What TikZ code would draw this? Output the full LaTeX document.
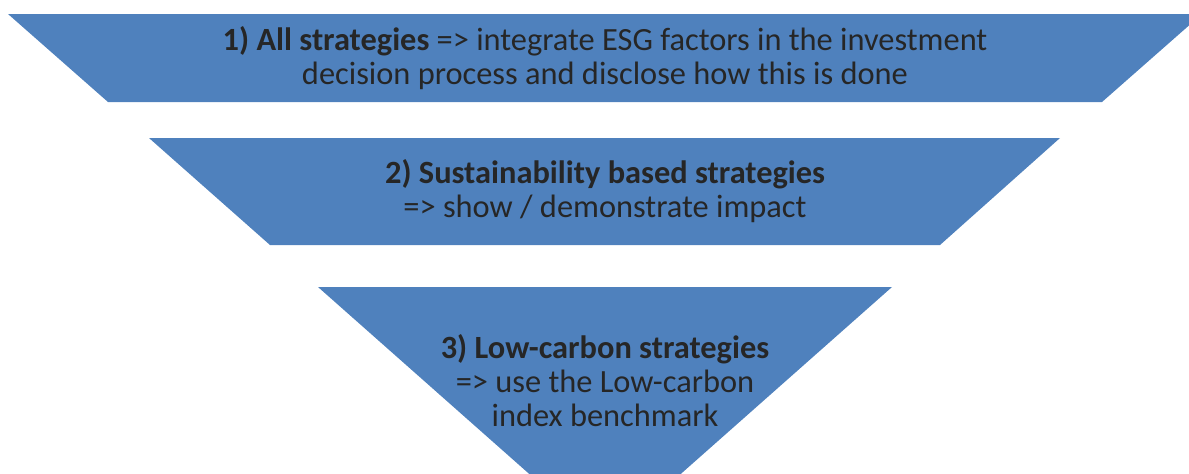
\documentclass[tikz,border=0pt]{standalone}
\usepackage{fontspec}
\setmainfont{Carlito}
\usepackage{tikz}
\usetikzlibrary{positioning}
\usepackage{xcolor}
\definecolor{funnelblue}{HTML}{4F81BD}
\definecolor{funneltext}{HTML}{262626}

\begin{document}
\begin{tikzpicture}[x=0.5pt, y=0.5pt,
    level/.style={fill=funnelblue, draw=none},
    levtext/.style={align=center, text=funneltext, font=\fontsize{16.2}{17}\selectfont, inner sep=0pt}]
        \useasboundingbox (0,0) rectangle (1189,473);
        \clip (0,0) rectangle (1189,473);
        % Level 1
        \fill[level] (8,459) -- (1202,459) -- (1102,371) -- (108,371) -- cycle;
        \node[levtext] (all) at (605,415) {\textbf{1) All strategies} => integrate ESG factors in the investment\\decision process and disclose how this is done};
        % Level 2
        \fill[level] (149,335) -- (1060,335) -- (940,228) -- (270,228) -- cycle;
        \node[levtext] (sust) at (605,282) {\textbf{2) Sustainability based strategies}\\=> show / demonstrate impact};
        % Level 3 (tip cut off below)
        \fill[level] (318,186) -- (892,186) -- (605,-68) -- cycle;
        \node[levtext] (lowc) at (605,92) {\textbf{3) Low-carbon strategies}\\=> use the Low-carbon\\index benchmark};
\end{tikzpicture}
\end{document}
